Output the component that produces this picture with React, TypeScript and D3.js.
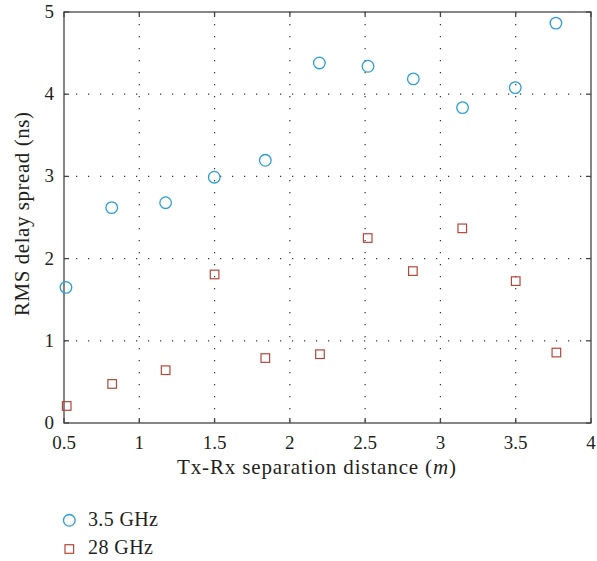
// RMS delay spread scatter chart
import React, {useMemo} from 'react';
import * as d3 from 'd3';

const distance35 = [0.513, 0.817, 1.175, 1.498, 1.837, 2.196, 2.519, 2.82, 3.147, 3.497, 3.767];
const rms35 = [1.65, 2.62, 2.68, 2.99, 3.196, 4.38, 4.34, 4.186, 3.837, 4.08, 4.865];

const distance28 = [0.518, 0.82, 1.175, 1.5, 1.837, 2.2, 2.517, 2.817, 3.145, 3.5, 3.77];
const rms28 = [0.207, 0.475, 0.642, 1.807, 0.79, 0.837, 2.25, 1.848, 2.368, 1.726, 0.857];

const xTicks = [0.5, 1, 1.5, 2, 2.5, 3, 3.5, 4];
const yTicks = [0, 1, 2, 3, 4, 5];
const seriesNames = ['3.5 GHz', '28 GHz'];

const WIDTH = 597;
const HEIGHT = 561;
const margin = {left: 64, right: 6, top: 12, bottom: 138};
const blue = '#2a9fd6';
const red = '#b5473a';
const ink = '#231f20';
const font = '"Liberation Serif", "DejaVu Serif", serif';

const App: React.FC = () => {
  const innerW = WIDTH - margin.left - margin.right;
  const innerH = HEIGHT - margin.top - margin.bottom;

  const xScale = useMemo(() => d3.scaleLinear().domain([0.5, 4]).range([0, innerW]), [innerW]);
  const yScale = useMemo(() => d3.scaleLinear().domain([0, 5]).range([innerH, 0]), [innerH]);

  const tickLen = 5;

  return (
      <svg width={WIDTH} height={HEIGHT}
           style={{position: 'absolute', left: 0, top: 0, background: '#fff'}}
           fontFamily={font}>
        <g transform={`translate(${margin.left}, ${margin.top})`}>
          {/* grid */}
          {xTicks.slice(1, -1).map(t => (
              <line key={`gx${t}`} x1={xScale(t)} x2={xScale(t)} y1={0} y2={innerH}
                    stroke="#333" strokeWidth={1.2} strokeDasharray="1.2 10.8"/>
          ))}
          {yTicks.slice(1, -1).map(t => (
              <line key={`gy${t}`} x1={0} x2={innerW} y1={yScale(t)} y2={yScale(t)}
                    stroke="#333" strokeWidth={1.2} strokeDasharray="1.2 10.8"/>
          ))}

          {/* ticks, inside on all four sides */}
          {xTicks.map(t => (
              <g key={`tx${t}`}>
                <line x1={xScale(t)} x2={xScale(t)} y1={innerH} y2={innerH - tickLen} stroke="#444" strokeWidth={1.3}/>
                <line x1={xScale(t)} x2={xScale(t)} y1={0} y2={tickLen} stroke="#444" strokeWidth={1.3}/>
                <text x={xScale(t)} y={innerH + 26} textAnchor="middle" fontSize={19} fill={ink}>{t}</text>
              </g>
          ))}
          {yTicks.map(t => (
              <g key={`ty${t}`}>
                <line x1={0} x2={tickLen} y1={yScale(t)} y2={yScale(t)} stroke="#444" strokeWidth={1.3}/>
                <line x1={innerW} x2={innerW - tickLen} y1={yScale(t)} y2={yScale(t)} stroke="#444" strokeWidth={1.3}/>
                <text x={-10} y={yScale(t) + 6} textAnchor="end" fontSize={19} fill={ink}>{t}</text>
              </g>
          ))}

          <rect x={0} y={0} width={innerW} height={innerH} fill="none" stroke="#444" strokeWidth={1.3}/>

          {/* data */}
          {distance35.map((d, i) => (
              <circle key={`c${i}`} cx={xScale(d)} cy={yScale(rms35[i])} r={5.8}
                      fill="none" stroke={blue} strokeWidth={1.3}/>
          ))}
          {distance28.map((d, i) => (
              <rect key={`s${i}`} x={xScale(d) - 4.3} y={yScale(rms28[i]) - 4.3} width={8.6} height={8.6}
                    fill="none" stroke={red} strokeWidth={1.2}/>
          ))}
        </g>

        {/* axis titles */}
        <text x={177} y={474} fontSize={21} fill={ink} textLength={279} lengthAdjust="spacing">
          Tx-Rx separation distance (<tspan fontStyle="italic">m</tspan>)
        </text>
        <text transform={`translate(29, 316) rotate(-90)`}
              fontSize={21} fill={ink} textLength={204} lengthAdjust="spacing">
          RMS delay spread (ns)
        </text>

        {/* legend */}
        <circle cx={69.3} cy={520.3} r={5.8} fill="none" stroke={blue} strokeWidth={1.3}/>
        <text x={88} y={526} fontSize={20} fill={ink} textLength={70} lengthAdjust="spacing">{seriesNames[0]}</text>
        <rect x={65} y={544.7} width={8.6} height={8.6} fill="none" stroke={red} strokeWidth={1.2}/>
        <text x={88} y={554} fontSize={20} fill={ink} textLength={65} lengthAdjust="spacing">{seriesNames[1]}</text>
      </svg>
  );
};

export default App;
